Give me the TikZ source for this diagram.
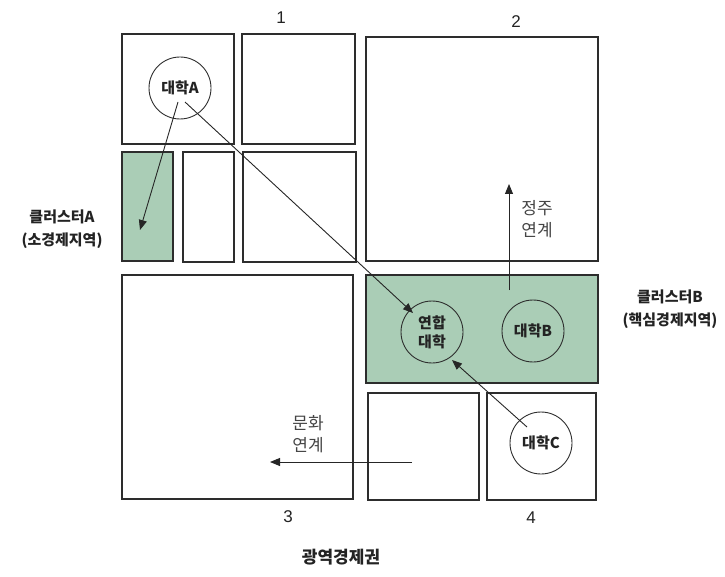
\documentclass[tikz,border=0pt]{standalone}
\usepackage{fontspec}
\setmainfont{Liberation Sans}
\newfontfamily\kr{Noto Sans CJK KR}
\usetikzlibrary{arrows.meta}
\definecolor{grn}{RGB}{170,205,182}
\definecolor{ln}{RGB}{45,45,45}
\definecolor{txt}{RGB}{35,35,35}
\begin{document}
\begin{tikzpicture}[x=1pt,y=-1pt,
  blk/.style={draw=ln,line width=1.2pt},
  gblk/.style={blk,fill=grn},
  uni/.style={circle,draw=ln,line width=0.9pt,minimum size=62pt,inner sep=0pt,
    font=\kr\bfseries\fontsize{15}{19}\selectfont,align=center,text=txt},
  arr/.style={-{Triangle[length=10pt,width=8pt]},line width=0.9pt,draw=black!85},
  lab/.style={font=\kr\fontsize{17}{22}\selectfont,text=txt!85,align=center},
  clab/.style={font=\kr\bfseries\fontsize{15}{23}\selectfont,text=txt,align=center},
  num/.style={font=\fontsize{17}{18}\selectfont,text=txt}]
\useasboundingbox (0,0) rectangle (725,577);
% blocks
\draw[blk] (122,34) rectangle (234,144);
\draw[blk] (242,34) rectangle (355,144);
\draw[gblk] (122,152) rectangle (173,261);
\draw[blk] (183,152) rectangle (234,262);
\draw[blk] (243,152) rectangle (356,262);
\draw[blk] (366,37) rectangle (598,261);
\draw[blk] (122,275) rectangle (353,499);
\draw[gblk] (366,275) rectangle (598,383);
\draw[blk] (368,393) rectangle (479,500);
\draw[blk] (487,393) rectangle (596,500);
% universities
\node[uni] (uA) at (180,88) {대학A};
\node[uni] (uU) at (432,332) {연합\\대학};
\node[uni] (uB) at (533,331) {대학B};
\node[uni] (uC) at (541,443) {대학C};
% arrow end points
\coordinate (a1s) at (178,102);
\coordinate (a1e) at (140,230);
\coordinate (a2s) at (185,102);
\coordinate (a2e) at (413,313);
\coordinate (a3s) at (527,427);
\coordinate (a3e) at (452,360);
\coordinate (jus) at (509,290);
\coordinate (jue) at (509,184);
\coordinate (mus) at (412,462);
\coordinate (mue) at (270,462);
\draw[arr] (a1s) -- (a1e);
\draw[arr] (a2s) -- (a2e);
\draw[arr] (a3s) -- (a3e);
\draw[arr] (jus) -- (jue);
\draw[arr] (mus) -- (mue);
% labels
\node[lab] (ju) at (537,219) {정주\\연계};
\node[lab] (mu) at (308,434) {문화\\연계};
\node[clab] (cA) at (62,229) {클러스터A\\(소경제지역)};
\node[clab] (cB) at (670,309) {클러스터B\\(핵심경제지역)};
\node[num] (n1) at (281,18) {1};
\node[num] (n2) at (516,22) {2};
\node[num] (n3) at (288,517) {3};
\node[num] (n4) at (531,518) {4};
\node[font=\kr\bfseries\fontsize{17}{18}\selectfont,text=txt] (title) at (341,557) {광역경제권};
\end{tikzpicture}
\end{document}
